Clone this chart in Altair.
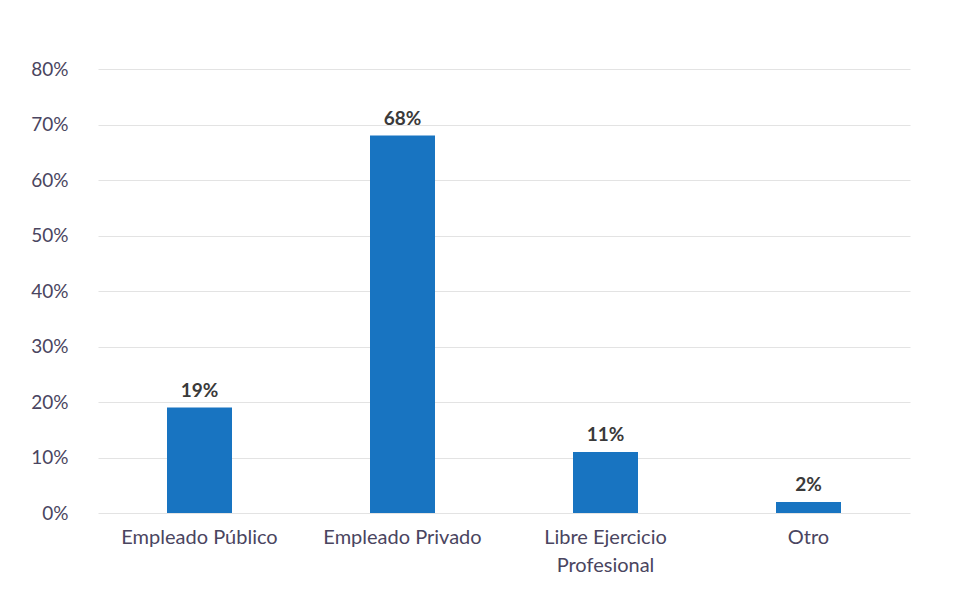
import altair as alt
import pandas as pd

categories = ["Empleado Público", "Empleado Privado", "Libre Ejercicio Profesional", "Otro"]
values = [0.19, 0.68, 0.11, 0.02]
labels = ["19%", "68%", "11%", "2%"]

df = pd.DataFrame({"categoria": categories, "valor": values, "etiqueta": labels})

FONT = "Lato"

x = alt.X(
    "categoria:N",
    sort=categories,
    title=None,
    scale=alt.Scale(paddingInner=0.68, paddingOuter=0.34),
    axis=alt.Axis(
        labelAngle=0,
        labelFontSize=20,
        labelColor="#4a4560",
        labelFont=FONT,
        labelPadding=14,
        ticks=False,
        domain=False,
        labelExpr="datum.label == 'Libre Ejercicio Profesional' ? ['Libre Ejercicio', 'Profesional'] : datum.label",
        labelLineHeight=28,
    ),
)
y = alt.Y(
    "valor:Q",
    title=None,
    scale=alt.Scale(domain=[0, 0.8]),
    axis=alt.Axis(
        format=".0%",
        values=[0, 0.1, 0.2, 0.3, 0.4, 0.5, 0.6, 0.7, 0.8],
        labelFontSize=19,
        labelColor="#4a4560",
        labelFont=FONT,
        labelPadding=30,
        ticks=False,
        domain=False,
        gridColor="#e3e3e3",
        gridWidth=1,
    ),
)

bars = alt.Chart(df).mark_bar(color="#1874c1", size=65).encode(x=x, y=y)
text = alt.Chart(df).mark_text(
    dy=-17, fontSize=19, fontWeight="bold", color="#3a3a3a", font=FONT
).encode(x=x, y=y, text="etiqueta:N")

chart = (
    (bars + text)
    .properties(
        width=812,
        height=444,
        padding={"left": 22, "top": 52, "right": 20, "bottom": 10},
        background="white",
    )
    .configure_view(stroke=None)
)

chart.save("out.html", embed_options={"renderer": "svg", "actions": False})
